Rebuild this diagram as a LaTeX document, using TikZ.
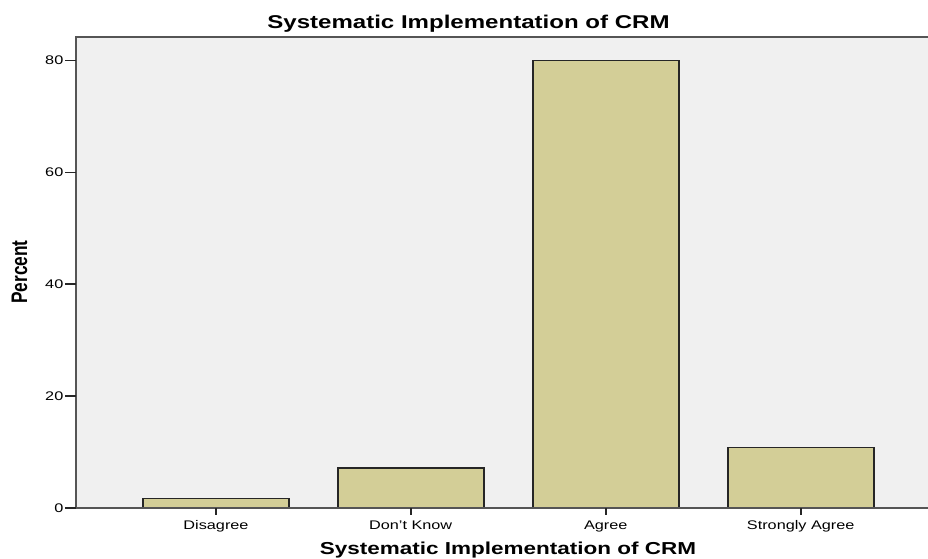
\documentclass[tikz,border=0pt]{standalone}
\usepackage{fontspec}
\usepackage{graphicx}
\setmainfont{Liberation Sans}
\newcommand\hstr[1]{\scalebox{1.3}[1]{#1}}
\definecolor{plotbg}{RGB}{240,240,240}
\definecolor{barfill}{RGB}{211,206,151}
\definecolor{axisgrey}{RGB}{85,85,85}
\tikzset{
  bar/.style={draw=black!85, line width=1.6pt, fill=barfill},
  axisline/.style={draw=axisgrey, line width=2.2pt},
  tickmark/.style={draw=black!85, line width=1.6pt},
  ticklabel/.style={font=\fontsize{12.5}{14}\selectfont, inner sep=0pt},
  titlelabel/.style={font=\bfseries\fontsize{18.5}{20}\selectfont, inner sep=0pt},
  axistitle/.style={font=\bfseries\fontsize{17.3}{19}\selectfont, inner sep=0pt}
}
\begin{document}
\begin{tikzpicture}[x=1pt,y=-1pt]
\useasboundingbox (0,0) rectangle (928,558);
\fill[white] (0,0) rectangle (928,558);
% plot area
\fill[plotbg] (76,37) rectangle (928,508);
% bars
\newcommand\barat[3]{\draw[bar] ({#1-73},508) rectangle ({#1+73},{508-5.594*#2}) node[coordinate] (#3) {};}
\barat{216}{1.73}{b1}
\barat{410.7}{7.2}{b2}
\barat{605.7}{80}{b3}
\barat{800.7}{10.85}{b4}
% frame
\draw[axisline] (928,37) -- (76,37) -- (76,508) -- (928,508);
% y ticks
\foreach \v in {0,20,40,60,80}{
  \draw[tickmark] (65,{508-5.594*\v}) -- (76,{508-5.594*\v});
  \node[ticklabel, anchor=east] (y\v) at (63.5,{508-5.594*\v}) {\hstr{\v}};
}
% x ticks and labels
\foreach \x/\t/\n in {216/Disagree/c1,410.7/Don't Know/c2,605.7/Agree/c3,800.7/Strongly Agree/c4}{
  \draw[tickmark] (\x,508) -- (\x,515);
  \node[ticklabel, anchor=base] (\n) at (\x,529) {\hstr{\t}};
}
% titles
\node[titlelabel, anchor=base] (title) at (468.5,28) {\hstr{Systematic Implementation of CRM}};
\node[axistitle, anchor=base] (xtitle) at (508,554.5) {\hstr{Systematic Implementation of CRM}};
\node[axistitle, anchor=center] (ytitle) at (19.5,272) {\scalebox{1.3}[1]{\rotatebox{90}{Percent}}};
\end{tikzpicture}
\end{document}
